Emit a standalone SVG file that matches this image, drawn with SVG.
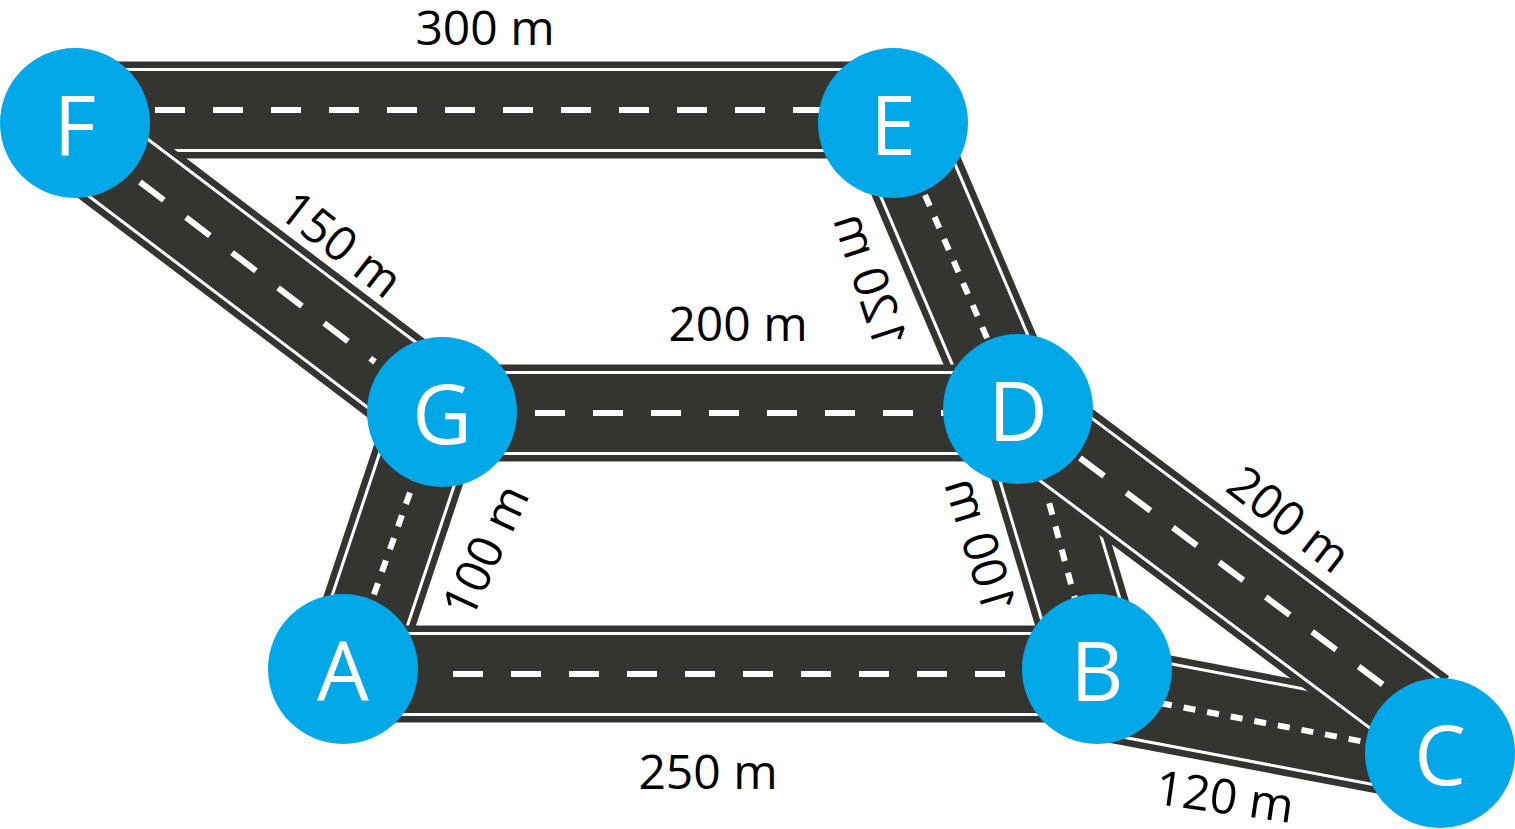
<svg xmlns="http://www.w3.org/2000/svg" width="1515" height="829" viewBox="0 0 1515 829">
<style>
.o{stroke:#343430;stroke-width:97;fill:none}
.w{stroke:#fff;stroke-width:84;fill:none}
.i{stroke:#343430;stroke-width:78;fill:none}
.da{stroke:#fff;stroke-width:6;stroke-dasharray:30 28;fill:none}
.do{stroke:#fff;stroke-width:6;stroke-dasharray:12 12;fill:none}
.n{fill:#00a8e8}
.nt{fill:#fff;font-family:'Open Sans',sans-serif;font-size:82px;text-anchor:middle;dominant-baseline:central}
.l{fill:#000;font-family:'Open Sans',sans-serif;font-size:48px;text-anchor:middle;dominant-baseline:central}
</style>
<rect width="1515" height="829" fill="#fff"/>
<g id="connectors">
<g><path class="o" d="M75 110H893"/><path class="w" d="M75 110H893"/><path class="i" d="M75 110H893"/><path class="da" d="M155 110H820"/></g>
<g><path class="o" d="M95 150L442 413"/><path class="w" d="M95 150L442 413"/><path class="i" d="M95 150L442 413"/><path class="da" d="M140 182L375 362"/></g>
<g><path class="o" d="M905 150L1005 385"/><path class="w" d="M905 150L1005 385"/><path class="i" d="M905 150L1005 385"/><path class="do" d="M925 195L990 345"/></g>
<g><path class="o" d="M442 413H1018"/><path class="w" d="M442 413H1018"/><path class="i" d="M442 413H1018"/><path class="da" d="M535 413H945"/></g>
<g><path class="o" d="M430 430L360 640"/><path class="w" d="M430 430L360 640"/><path class="i" d="M430 430L360 640"/><path class="do" d="M418 470L372 600"/></g>
<g><path class="o" d="M1030 440L1090 640"/><path class="w" d="M1030 440L1090 640"/><path class="i" d="M1030 440L1090 640"/><path class="do" d="M1043 480L1078 610"/></g>
<g><path class="o" d="M343 674H1097"/><path class="w" d="M343 674H1097"/><path class="i" d="M343 674H1097"/><path class="da" d="M453 674H1020"/></g>
<g><path class="o" d="M1097 691L1440 756"/><path class="w" d="M1097 691L1440 756"/><path class="i" d="M1097 691L1440 756"/><path class="do" d="M1160 703L1365 742"/></g>
<g><path class="o" d="M1040 430L1420 715"/><path class="w" d="M1040 430L1420 715"/><path class="i" d="M1040 430L1420 715"/><path class="da" d="M1080 458L1390 690"/></g>
</g>
<g id="F"><circle class="n" cx="75" cy="123" r="75"/><text class="nt" x="75" y="123">F</text></g>
<g id="E"><circle class="n" cx="893" cy="123" r="75"/><text class="nt" x="893" y="123">E</text></g>
<g id="G"><circle class="n" cx="442" cy="412" r="75"/><text class="nt" x="442" y="412">G</text></g>
<g id="D"><circle class="n" cx="1018" cy="409" r="75"/><text class="nt" x="1018" y="409">D</text></g>
<g id="A"><circle class="n" cx="343" cy="669" r="75"/><text class="nt" x="343" y="669">A</text></g>
<g id="B"><circle class="n" cx="1097" cy="669" r="75"/><text class="nt" x="1097" y="669">B</text></g>
<g id="C"><circle class="n" cx="1440" cy="753" r="75"/><text class="nt" x="1440" y="753">C</text></g>
<g id="labels">
<text class="l" x="485" y="26">300 m</text>
<text class="l" transform="translate(342 243) rotate(38)">150 m</text>
<text class="l" x="738" y="322">200 m</text>
<text class="l" transform="translate(872 280) rotate(-108) scale(1 -1)">120 m</text>
<text class="l" transform="translate(484 550) rotate(-65)">100 m</text>
<text class="l" transform="translate(982 545) rotate(-107) scale(1 -1)">100 m</text>
<text class="l" transform="translate(1290 518) rotate(38)">200 m</text>
<text class="l" x="708" y="770">250 m</text>
<text class="l" transform="translate(1225 795) rotate(8)">120 m</text>
</g>
</svg>
